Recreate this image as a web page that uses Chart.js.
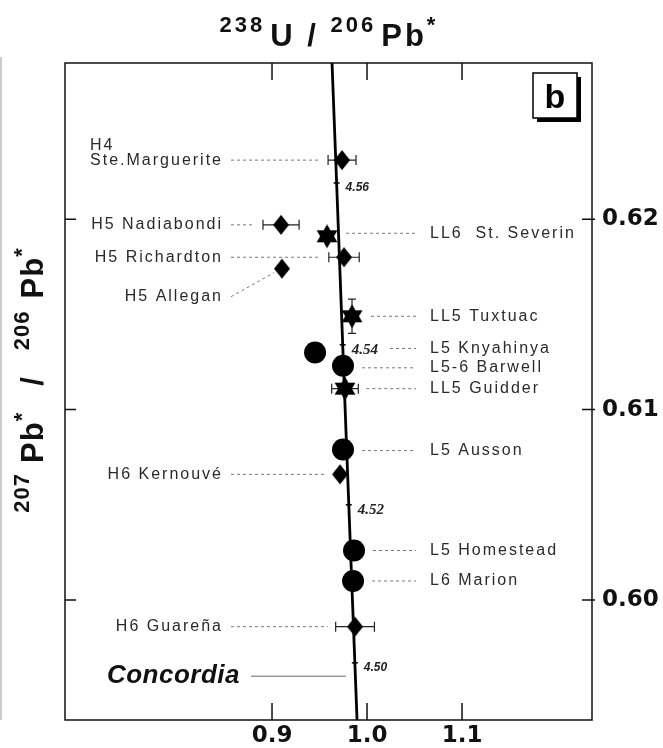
<!DOCTYPE html>
<html>
<head>
<meta charset="utf-8">
<script src="https://cdn.jsdelivr.net/npm/chart.js@4.4.1/dist/chart.umd.min.js"></script>
<style>
  html, body { margin: 0; padding: 0; background: #fff; }
  #wrap { width: 663px; height: 748px; }
</style>
</head>
<body>
<div id="wrap"><canvas id="myChart" width="663" height="748"></canvas></div>
<script>
// meteorites
const labelText = ['H4|Ste.Marguerite', 'H5 Nadiabondi', 'LL6  St. Severin', 'H5 Richardton', 'H5 Allegan',
    'LL5 Tuxtuac', 'L5 Knyahinya', 'L5-6 Barwell', 'LL5 Guidder', 'L5 Ausson', 'H6 Kernouvé',
    'L5 Homestead', 'L6 Marion', 'H6 Guareña'];
const labelSide = ['left', 'left', 'right', 'left', 'left', 'right', 'right', 'right', 'right', 'right', 'left',
    'right', 'right', 'left'];
const markers = ['diamond', 'diamond', 'star', 'diamond', 'diamond', 'star', 'circle', 'circle', 'star', 'circle',
    'diamond', 'circle', 'circle', 'diamond'];
const u238Pb206 = [0.9737, 0.9095, 0.9579, 0.9758, 0.9105, 0.9842, 0.9453, 0.9747, 0.9768, 0.9747, 0.9716,
    0.9863, 0.9853, 0.9874];
const pb207Pb206 = [0.6231, 0.6197, 0.6191, 0.6180, 0.6174, 0.6149, 0.6130, 0.6123, 0.6111, 0.6079, 0.6066,
    0.6026, 0.6010, 0.5986];
const xErr = [0.0147, 0.019, 0, 0.016, 0, 0, 0, 0, 0.014, 0, 0, 0, 0, 0.0204];
const yErr = [0, 0, 0, 0, 0, 0.0009, 0, 0, 0, 0, 0, 0, 0, 0];

// concordia curve, ages in Ga
const concordiaAge = ['4.48', '4.50', '4.52', '4.54', '4.56', '4.58'];
const concordiaX = [0.9934, 0.9872, 0.9808, 0.9744, 0.9680, 0.9614];
const concordiaY = [0.5886, 0.5967, 0.6050, 0.6134, 0.6219, 0.6305];
const shownAges = ['4.50', '4.52', '4.54', '4.56'];

const xTicks = [0.9, 1.0, 1.1];
const yTicks = [0.60, 0.61, 0.62];

// label nudges in pixels (layout only)
const labelNudge = { 'LL6  St. Severin': -3, 'L5 Knyahinya': -4, 'L5-6 Barwell': 2, 'L5 Ausson': 1 };

function makeStar(r) {
    const c = document.createElement('canvas');
    const s = Math.ceil(r * 2 + 2);
    c.width = s; c.height = s;
    const g = c.getContext('2d');
    g.fillStyle = '#000';
    for (const off of [-Math.PI / 2, Math.PI / 2]) {
        g.beginPath();
        for (let k = 0; k < 3; k++) {
            const a = off + k * 2 * Math.PI / 3;
            const x = s / 2 + r * Math.cos(a), y = s / 2 + r * Math.sin(a);
            if (k) g.lineTo(x, y); else g.moveTo(x, y);
        }
        g.closePath();
        g.fill();
    }
    return c;
}
function makeDiamond(hw, hh) {
    const c = document.createElement('canvas');
    c.width = hw * 2 + 2; c.height = hh * 2 + 2;
    const g = c.getContext('2d');
    const cx = c.width / 2, cy = c.height / 2;
    g.fillStyle = '#000';
    g.beginPath();
    g.moveTo(cx, cy - hh); g.lineTo(cx + hw, cy); g.lineTo(cx, cy + hh); g.lineTo(cx - hw, cy);
    g.closePath();
    g.fill();
    return c;
}
const starImg = makeStar(12);
const diamondImg = makeDiamond(8, 10);
const markerHalf = { diamond: 8, circle: 11, star: 11 };

const LABEL_FONT = '16px "Liberation Sans", Arial, sans-serif';
const LEFT_COL = 223;
const RIGHT_COL = 430;

function seg(ctx, x1, y1, x2, y2) {
    ctx.beginPath();
    ctx.moveTo(x1, y1);
    ctx.lineTo(x2, y2);
    ctx.stroke();
}

// draws superscripted pieces centred on 0 at baseline 0
function drawIsotopeTitle(ctx, parts, spacing) {
    const big = 'bold 31px "Liberation Sans", Arial, sans-serif';
    const small = 'bold 22px "Liberation Sans", Arial, sans-serif';
    ctx.letterSpacing = spacing + 'px';
    let total = 0;
    parts.forEach(p => { ctx.font = p.sup ? small : big; total += ctx.measureText(p.t).width + (p.gap || 0); });
    let x = -total / 2;
    parts.forEach(p => {
        ctx.font = p.sup ? small : big;
        ctx.fillText(p.t, x, p.sup ? -14 : 0);
        x += ctx.measureText(p.t).width + (p.gap || 0);
    });
}

const decorPlugin = {
    id: 'decor',
    beforeDatasetsDraw(chart) {
        const { ctx, scales: { x: xs, y: ys } } = chart;
        ctx.save();
        // error bars
        ctx.strokeStyle = '#222';
        ctx.lineWidth = 1.2;
        u238Pb206.forEach((xv, i) => {
            const px = xs.getPixelForValue(xv), py = ys.getPixelForValue(pb207Pb206[i]);
            if (xErr[i]) {
                const l = xs.getPixelForValue(xv - xErr[i]), r = xs.getPixelForValue(xv + xErr[i]);
                ctx.beginPath();
                ctx.moveTo(l, py); ctx.lineTo(r, py);
                ctx.moveTo(l, py - 5); ctx.lineTo(l, py + 5);
                ctx.moveTo(r, py - 5); ctx.lineTo(r, py + 5);
                ctx.stroke();
            }
            if (yErr[i]) {
                const t = ys.getPixelForValue(pb207Pb206[i] + yErr[i]), b = ys.getPixelForValue(pb207Pb206[i] - yErr[i]);
                ctx.beginPath();
                ctx.moveTo(px, t); ctx.lineTo(px, b);
                ctx.moveTo(px - 4, t); ctx.lineTo(px + 4, t);
                ctx.moveTo(px - 4, b); ctx.lineTo(px + 4, b);
                ctx.stroke();
            }
        });
        ctx.restore();
    },
    afterDatasetsDraw(chart) {
        const { ctx, chartArea: a, scales: { x: xs, y: ys } } = chart;
        ctx.save();
        // frame
        ctx.strokeStyle = '#111';
        ctx.lineWidth = 1.5;
        ctx.strokeRect(a.left, a.top, a.right - a.left, a.bottom - a.top);
        // inward ticks
        ctx.beginPath();
        xTicks.forEach(v => {
            const p = xs.getPixelForValue(v);
            ctx.moveTo(p, a.bottom); ctx.lineTo(p, a.bottom - 17);
            ctx.moveTo(p, a.top); ctx.lineTo(p, a.top + 17);
        });
        yTicks.forEach(v => {
            const p = ys.getPixelForValue(v);
            ctx.moveTo(a.left, p); ctx.lineTo(a.left + 11, p);
            ctx.moveTo(a.right + 3, p); ctx.lineTo(a.right - 10, p);
        });
        ctx.stroke();

        // stray edge of the neighbouring panel
        ctx.strokeStyle = '#999';
        ctx.lineWidth = 1;
        seg(ctx, 1, a.top - 6, 1, a.bottom);

        // sample labels and leaders
        ctx.font = LABEL_FONT;
        ctx.letterSpacing = '2px';
        ctx.textBaseline = 'middle';
        labelText.forEach((txt, i) => {
            const px = xs.getPixelForValue(u238Pb206[i]), py = ys.getPixelForValue(pb207Pb206[i]);
            const half = markerHalf[markers[i]];
            const ex = xErr[i] ? xs.getPixelForValue(u238Pb206[i] + xErr[i]) - px : 0;
            const ly = py + (labelNudge[txt] || 0);
            ctx.fillStyle = '#2a2a2a';
            ctx.strokeStyle = '#777';
            ctx.lineWidth = 1;
            ctx.setLineDash([3, 3]);
            if (labelSide[i] === 'left') {
                const parts = txt.split('|');
                const allegan = txt === 'H5 Allegan';
                const y0 = allegan ? py + 28 : ly;
                ctx.textAlign = 'right';
                const main = parts[parts.length - 1];
                ctx.fillText(main, LEFT_COL, y0);
                if (parts.length === 2) {
                    const w = ctx.measureText(main).width;
                    ctx.textAlign = 'left';
                    ctx.fillText(parts[0], LEFT_COL - w, y0 - 15);
                }
                if (allegan) seg(ctx, LEFT_COL + 8, y0, px - half, py + 4);
                else seg(ctx, LEFT_COL + 8, y0, px - Math.max(half, ex) - 8, y0);
            } else {
                ctx.textAlign = 'left';
                ctx.fillText(txt, RIGHT_COL, ly);
                let start = px + Math.max(half, ex) + 8;
                if (txt === 'L5 Knyahinya') start = 390;
                seg(ctx, start, ly, RIGHT_COL - 14, ly);
            }
        });
        ctx.setLineDash([]);

        // concordia tag
        const cy = ys.getPixelForValue(0.5960);
        ctx.letterSpacing = '0.5px';
        ctx.font = 'italic bold 26px "Liberation Sans", Arial, sans-serif';
        ctx.fillStyle = '#111';
        ctx.textAlign = 'right';
        ctx.fillText('Concordia', 240, cy);
        ctx.strokeStyle = '#666';
        seg(ctx, 251, cy, xs.getPixelForValue(concordiaX[1]) - 9, cy);

        // age labels along the concordia
        ctx.letterSpacing = '0px';
        ctx.textAlign = 'left';
        concordiaAge.forEach((age, k) => {
            if (!shownAges.includes(age)) return;
            const x = xs.getPixelForValue(concordiaX[k]), y = ys.getPixelForValue(concordiaY[k]);
            ctx.font = (age === '4.52' || age === '4.54')
                ? 'italic bold 15px "Liberation Serif", serif'
                : 'italic bold 12px "Liberation Sans", Arial, sans-serif';
            ctx.fillStyle = '#222';
            ctx.fillText(age, x + 9, y + 5);
        });

        // panel tag "b"
        ctx.fillStyle = '#000';
        ctx.fillRect(537, 77, 44, 45);
        ctx.fillStyle = '#fff';
        ctx.fillRect(533, 73, 44, 45);
        ctx.strokeStyle = '#000';
        ctx.lineWidth = 1.5;
        ctx.strokeRect(533, 73, 44, 45);
        ctx.fillStyle = '#000';
        ctx.font = 'bold 34px "Liberation Sans", Arial, sans-serif';
        ctx.textAlign = 'center';
        ctx.textBaseline = 'alphabetic';
        ctx.fillText('b', 555, 108);

        // axis titles
        ctx.textAlign = 'left';
        ctx.fillStyle = '#111';
        ctx.save();
        ctx.translate(329, 46);
        drawIsotopeTitle(ctx, [{ t: '238', sup: true, gap: 5 }, { t: 'U / ' }, { t: '206', sup: true, gap: 5 },
            { t: 'Pb' }, { t: '*', sup: true }], 3);
        ctx.restore();
        ctx.save();
        ctx.translate(43, 380);
        ctx.rotate(-Math.PI / 2);
        drawIsotopeTitle(ctx, [{ t: '207', sup: true, gap: 10 }, { t: 'Pb' }, { t: '*', sup: true, gap: 26 },
            { t: '/', gap: 26 }, { t: '206', sup: true, gap: 12 }, { t: 'Pb' }, { t: '*', sup: true }], 1);
        ctx.restore();
        ctx.restore();
    }
};

const ctx = document.getElementById('myChart').getContext('2d');
new Chart(ctx, {
    type: 'scatter',
    data: {
        datasets: [{
            label: 'Concordia',
            data: concordiaX.map((x, k) => ({ x: x, y: concordiaY[k] })),
            showLine: true,
            borderColor: '#000',
            borderWidth: 2.8,
            pointStyle: 'line',
            pointRadius: 3,
            pointBorderWidth: 1.5,
            pointBorderColor: '#000',
            order: 2
        }, {
            label: 'Meteorites',
            data: u238Pb206.map((x, i) => ({ x: x, y: pb207Pb206[i] })),
            pointStyle: c => markers[c.dataIndex] === 'star' ? starImg
                : markers[c.dataIndex] === 'circle' ? 'circle' : diamondImg,
            pointRadius: c => markerHalf[markers[c.dataIndex]],
            backgroundColor: '#000',
            borderColor: '#000',
            borderWidth: 0,
            order: 1
        }]
    },
    options: {
        responsive: false,
        animation: false,
        events: [],
        layout: { padding: { left: 65, top: 63, right: 0, bottom: 0 } },
        plugins: { legend: { display: false }, tooltip: { enabled: false } },
        scales: {
            x: {
                type: 'linear',
                min: 0.6821,
                max: 1.2368,
                grid: { display: false, drawTicks: false },
                border: { display: false },
                ticks: {
                    color: '#111',
                    padding: 2,
                    font: { family: '"DejaVu Sans", sans-serif', size: 23, weight: 'bold' },
                    callback: v => v.toFixed(1)
                },
                afterBuildTicks: s => { s.ticks = xTicks.map(v => ({ value: v })); },
                afterFit: s => { s.height = 28; }
            },
            y: {
                type: 'linear',
                position: 'right',
                min: 0.5937,
                max: 0.6282,
                grid: { display: false, drawTicks: false },
                border: { display: false },
                ticks: {
                    color: '#111',
                    padding: 10,
                    font: { family: '"DejaVu Sans", sans-serif', size: 23, weight: 'bold' },
                    callback: v => v.toFixed(2)
                },
                afterBuildTicks: s => { s.ticks = yTicks.map(v => ({ value: v })); },
                afterFit: s => { s.width = 71; }
            }
        }
    },
    plugins: [decorPlugin]
});
</script>
</body>
</html>
